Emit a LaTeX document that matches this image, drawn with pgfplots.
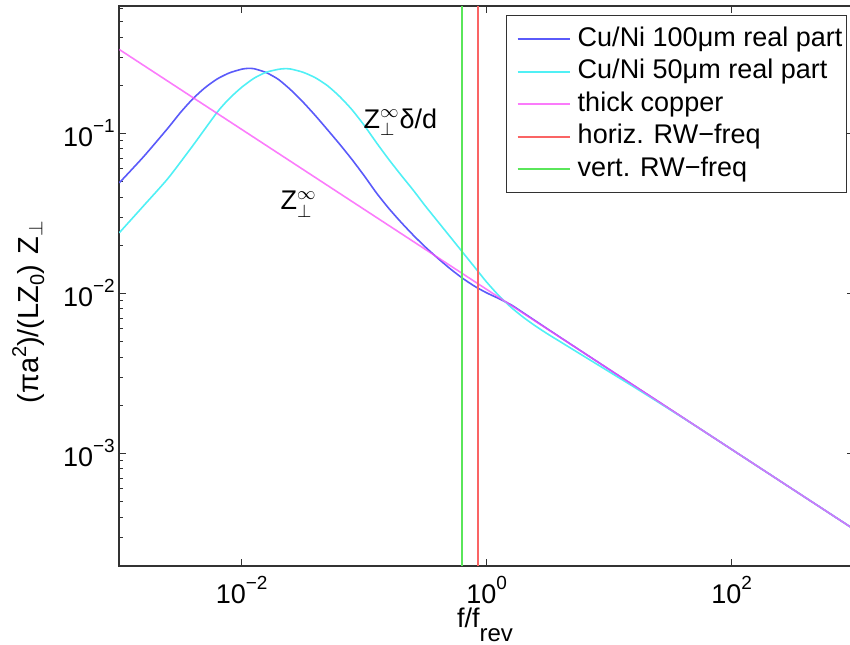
\documentclass[border=0pt]{standalone}
\usepackage{pgfplots}
\usepackage{pgfplotstable}
\pgfplotsset{compat=1.18}
\usepackage{fontspec}
\setmainfont{Liberation Sans}
\definecolor{colB}{RGB}{90,90,250}
\definecolor{colC}{RGB}{80,240,245}
\definecolor{colM}{RGB}{250,80,250}
\definecolor{colR}{RGB}{250,100,100}
\definecolor{colG}{RGB}{90,230,90}
\definecolor{colF}{RGB}{50,50,50}
\newcommand{\tl}[1]{10\raisebox{7pt}{\fontsize{9.5}{11}\selectfont #1}}

% log10 of f/f_rev and log10 of the impedance
\pgfplotstableread{
lx ly
-3.0 -1.310
-2.8 -1.145
-2.6 -0.965
-2.5 -0.870
-2.4 -0.785
-2.3 -0.715
-2.2 -0.660
-2.1 -0.622
-2.0 -0.599
-1.95 -0.594
-1.9 -0.596
-1.8 -0.620
-1.7 -0.663
-1.6 -0.728
-1.5 -0.804
-1.4 -0.888
-1.3 -0.977
-1.2 -1.068
-1.1 -1.163
-1.0 -1.265
-0.9 -1.372
-0.8 -1.468
-0.7 -1.555
-0.6 -1.636
-0.5 -1.711
-0.4 -1.780
-0.3 -1.845
-0.2 -1.904
-0.1 -1.955
0.0 -1.997
0.1 -2.033
0.2 -2.072
0.3 -2.122
0.4 -2.173
0.5 -2.224
0.7 -2.325
1.0 -2.4755
1.5 -2.7255
2.0 -2.9755
2.5 -3.2255
3.0 -3.4755
}\bluedata

\pgfplotstableread{
lx ly
-3.0 -1.622
-2.8 -1.452
-2.6 -1.280
-2.4 -1.078
-2.2 -0.868
-2.1 -0.782
-2.0 -0.712
-1.9 -0.656
-1.8 -0.618
-1.7 -0.600
-1.65 -0.596
-1.6 -0.598
-1.5 -0.618
-1.4 -0.652
-1.3 -0.702
-1.2 -0.770
-1.1 -0.852
-1.0 -0.950
-0.9 -1.058
-0.8 -1.162
-0.7 -1.260
-0.6 -1.355
-0.5 -1.455
-0.4 -1.550
-0.3 -1.645
-0.2 -1.740
-0.1 -1.835
0.0 -1.930
0.1 -2.015
0.2 -2.088
0.3 -2.150
0.4 -2.205
0.5 -2.255
0.6 -2.302
0.8 -2.396
1.0 -2.490
1.2 -2.584
1.4 -2.680
1.7 -2.826
2.0 -2.9755
2.5 -3.2255
3.0 -3.4755
}\cyandata

\pgfplotstableread{
lx ly
-3.0 -0.4755
-2.0 -0.9755
-1.0 -1.4755
0.0 -1.9755
1.0 -2.4755
2.0 -2.9755
3.0 -3.4755
}\magdata

\begin{document}
\fontsize{13.5}{16}\selectfont
\begin{tikzpicture}
\begin{axis}[
  scale only axis,
  width=367.5pt, height=280pt,
  xmode=log, ymode=log,
  xmin=1e-3, xmax=1e3, ymin=1.977e-4, ymax=0.625,
  axis line style={colF, line width=0.7pt},
  tick style={colF, line width=0.5pt},
  tick align=inside,
  major tick length=3.5pt, minor tick length=2pt,
  xtick={1e-2,1,1e2},
  xticklabels={\tl{−2},\tl{0},\tl{2}},
  xminorticks=false,
  ytick={1e-3,1e-2,1e-1},
  yticklabels={\tl{−3},\tl{−2},\tl{−1}},
  minor ytick={3e-4,4e-4,5e-4,6e-4,7e-4,8e-4,9e-4,2e-3,3e-3,4e-3,5e-3,6e-3,7e-3,8e-3,9e-3,2e-2,3e-2,4e-2,5e-2,6e-2,7e-2,8e-2,9e-2,2e-1,3e-1,4e-1,5e-1,6e-1},
  ticklabel style={font=\fontsize{13.5}{16}\selectfont, inner sep=0pt},
  xticklabel style={yshift=-5pt},
  yticklabel style={xshift=-2pt},
  xlabel={f/f\raisebox{-7pt}{\fontsize{12}{12}\selectfont rev}},
  ylabel={(πa\raisebox{6pt}{\fontsize{10}{12}\selectfont 2})/(LZ\raisebox{-3pt}{\fontsize{10}{12}\selectfont 0})\hspace{0.35em}Z$_{\perp}$},
  label style={inner sep=0pt},
  xlabel style={font=\fontsize{13.5}{16}\selectfont, at={(axis description cs:0.4977,0)}, anchor=base, yshift=-30.5pt},
  ylabel style={font=\fontsize{14.5}{16}\selectfont, at={(axis description cs:-0.1238,0.4536)}, anchor=center},
  legend cell align=left,
  legend style={at={(rel axis cs:0.9902,0.9839)}, anchor=north east,
    draw=colF, line width=0.6pt, font=\fontsize{13.5}{16}\selectfont,
    nodes={inner sep=0pt, text height=10pt, text depth=3pt},
    row sep=3.25pt, column sep=3.5pt, inner xsep=2pt, inner ysep=5.25pt},
  legend image code/.code={\path (0pt,0pt); \draw[#1, line width=1pt] (3pt,0pt) -- (29pt,0pt);},
]
\addplot[colB, line width=0.8pt, smooth, tension=0.4] table[x expr={10^(\thisrow{lx})}, y expr={10^(\thisrow{ly})}] {\bluedata};
\addlegendentry{Cu/Ni 100μm real part}
\addplot[colC, line width=0.8pt, smooth, tension=0.4] table[x expr={10^(\thisrow{lx})}, y expr={10^(\thisrow{ly})}] {\cyandata};
\addlegendentry{Cu/Ni 50μm real part}
\addplot[colM, line width=0.8pt, opacity=0.75] table[x expr={10^(\thisrow{lx})}, y expr={10^(\thisrow{ly})}] {\magdata};
\addlegendentry{thick copper}
\addplot[colR, line width=1pt] coordinates {(0.854,1.977e-4) (0.854,0.625)};
\addlegendentry{horiz. RW−freq}
\addplot[colG, line width=1pt] coordinates {(0.625,1.977e-4) (0.625,0.625)};
\addlegendentry{vert. RW−freq}
\node[anchor=base west, inner sep=0pt] at (axis cs:0.0982,0.1079) {Z$^{\infty}_{\perp}$δ/d};
\node[anchor=base west, inner sep=0pt] at (axis cs:0.0206,0.0332) {Z$^{\infty}_{\perp}$};
\coordinate (bl) at (rel axis cs:0,0);
\coordinate (tr) at (rel axis cs:1,1);
\end{axis}
\pgfresetboundingbox
\path ([shift={(-59.6pt,-39.5pt)}]bl) rectangle ([shift={(-2.1pt,3pt)}]tr);
\end{tikzpicture}
\end{document}
